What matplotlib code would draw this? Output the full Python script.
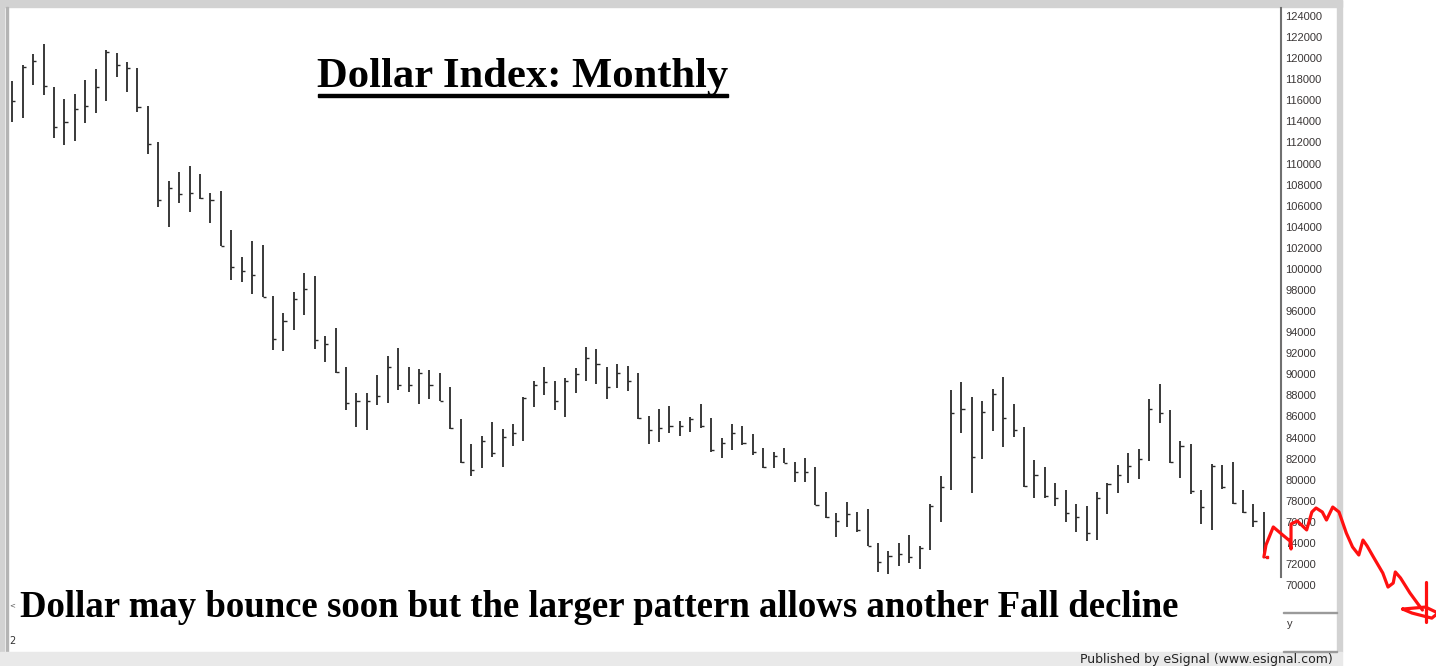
import matplotlib
matplotlib.use('Agg')
import matplotlib.pyplot as plt
from matplotlib.patches import Rectangle
import numpy as np

W, H = 1436, 666

# monthly bars, values in thousands
high_k = [117.86, 119.35, 120.39, 121.31, 117.23, 116.12, 116.57, 117.93, 118.94, 120.77,
          120.52, 119.66, 119.04, 115.46, 112.01, 108.37, 109.22, 109.76, 108.98, 107.17,
          107.42, 103.69, 101.10, 102.68, 102.24, 97.46, 95.79, 97.84, 99.58, 99.35,
          93.63, 94.36, 90.66, 88.19, 88.19, 89.93, 91.76, 92.52, 90.72, 90.47,
          90.41, 90.09, 88.82, 85.73, 83.35, 84.17, 85.50, 84.81, 85.28, 87.81,
          89.36, 90.66, 89.36, 89.62, 90.57, 92.56, 92.37, 90.66, 90.95, 90.81,
          90.09, 86.04, 86.68, 87.02, 85.57, 85.97, 87.15, 85.82, 83.92, 85.28,
          85.12, 84.30, 82.97, 82.60, 83.03, 81.70, 82.03, 81.17, 78.80, 76.81,
          77.85, 76.96, 77.19, 73.96, 73.26, 74.02, 74.75, 73.70, 77.69, 80.37,
          88.51, 89.24, 87.87, 87.46, 88.60, 89.71, 87.18, 85.02, 81.86, 81.17,
          79.65, 79.02, 77.69, 77.50, 78.80, 79.65, 81.39, 82.50, 82.91, 87.65,
          89.08, 86.61, 83.67, 83.35, 79.02, 81.46, 81.39, 81.70, 79.02, 77.69,
          76.96]
low_k = [113.97, 114.29, 117.45, 116.50, 112.45, 111.76, 112.17, 113.87, 114.77, 115.96,
         118.24, 116.76, 114.86, 110.88, 105.85, 104.00, 106.23, 105.43, 106.63, 104.33,
         102.20, 98.95, 98.79, 97.59, 97.30, 92.30, 92.24, 94.20, 95.62, 92.37,
         91.19, 90.09, 86.61, 85.02, 84.71, 87.06, 87.25, 88.51, 88.35, 87.15,
         87.63, 87.49, 84.83, 81.55, 80.37, 81.13, 82.18, 81.17, 83.22, 83.70,
         86.92, 88.03, 86.61, 85.97, 88.25, 89.36, 89.08, 87.63, 88.67, 88.41,
         85.76, 83.38, 83.60, 84.40, 84.14, 84.55, 84.93, 82.65, 82.03, 82.81,
         83.29, 82.34, 81.08, 81.08, 81.55, 79.81, 79.81, 77.59, 76.39, 74.59,
         75.53, 75.06, 73.70, 71.21, 71.02, 71.83, 72.12, 71.52, 73.32, 76.01,
         79.02, 84.40, 78.76, 81.93, 84.62, 83.07, 84.02, 79.27, 78.29, 78.29,
         77.50, 76.01, 75.06, 74.21, 74.27, 76.71, 78.71, 79.71, 80.06, 81.80,
         85.35, 81.55, 80.13, 78.64, 75.79, 75.22, 79.11, 77.66, 76.86, 75.53,
         72.56]
close_k = [115.96, 119.13, 119.76, 117.39, 113.49, 113.97, 115.17, 115.49, 117.23, 120.61,
           119.35, 119.04, 115.39, 111.85, 106.54, 107.65, 107.08, 107.23, 106.76, 106.54,
           102.20, 100.15, 99.80, 99.42, 97.36, 93.32, 95.08, 97.14, 98.06, 93.25,
           92.87, 90.24, 87.25, 87.46, 87.46, 87.97, 90.66, 88.98, 88.98, 90.15,
           88.98, 87.49, 84.87, 81.70, 80.92, 83.67, 82.50, 84.08, 84.40, 87.72,
           88.98, 89.24, 87.49, 89.39, 90.00, 91.52, 90.97, 88.82, 90.09, 89.39,
           85.88, 84.71, 84.93, 85.12, 85.09, 85.73, 85.09, 82.81, 83.45, 84.40,
           83.45, 82.60, 81.23, 82.24, 81.61, 80.75, 80.75, 77.59, 76.48, 76.08,
           76.71, 75.22, 73.70, 72.16, 72.75, 72.94, 72.69, 73.49, 77.50, 79.33,
           86.35, 86.68, 82.12, 86.45, 88.13, 85.88, 84.71, 79.40, 80.44, 78.48,
           78.23, 76.86, 76.48, 74.91, 78.23, 79.59, 80.44, 81.32, 81.96, 86.68,
           86.35, 81.64, 83.19, 78.95, 77.43, 81.29, 79.27, 77.75, 76.96, 76.08,
           72.65]

# hand drawn red forecast squiggle (bar index, value in thousands)
sq_x = [121.0, 121.2, 121.9, 122.8, 123.5, 123.6, 123.6, 124.2, 125.1, 125.6, 126.0,
        126.6, 127.0, 127.6, 128.2, 128.9, 129.5, 130.1, 130.5, 130.9, 131.5, 132.4,
        132.9, 133.4, 133.6, 134.1, 135.0, 135.7, 136.2]
sq_y = [72.66, 73.80, 75.51, 74.75, 74.18, 73.42, 75.79, 76.08, 75.23, 76.93, 77.31,
        76.93, 76.17, 77.40, 76.93, 74.94, 73.61, 72.85, 74.27, 73.70, 72.66, 71.14,
        69.81, 70.19, 71.24, 70.67, 69.25, 68.30, 67.63]
loop_x = [134.3, 136.5, 137.7, 137.1, 135.2, 134.3]
loop_y = [67.72, 67.91, 67.34, 66.86, 67.34, 67.72]
stroke_x = [136.5, 136.5]
stroke_y = [70.29, 66.49]

yticks_k = list(range(70, 126, 2))

high = np.array(high_k) * 1000
low = np.array(low_k) * 1000
close = np.array(close_k) * 1000
bars = np.arange(1, len(high) + 1)

fig = plt.figure(figsize=(W / 100, H / 100), dpi=100)
fig.patch.set_facecolor('white')


def px_rect(x0, y0, x1, y1, color):
    # rectangle in pixel units, kept under the axes
    fig.patches.append(Rectangle((x0 / W, 1 - y1 / H), (x1 - x0) / W, (y1 - y0) / H,
                                 transform=fig.transFigure, color=color, zorder=-1))


# window frame pieces
px_rect(0, 0, 1342, 7, '#d2d2d2')
px_rect(0, 0, 4, 652, '#d2d2d2')
px_rect(6, 7, 7.5, 652, '#b4b4b4')
px_rect(1337, 0, 1342, 652, '#d2d2d2')
px_rect(0, 652, 1342, 666, '#e9e9e9')
px_rect(1283, 611.5, 1337, 612.5, '#9a9a9a')
px_rect(1283, 650.5, 1337, 651.5, '#9a9a9a')

ax = fig.add_axes([8 / W, 66 / H, (1281 - 8) / W, 592 / H])
ax.set_facecolor('none')
ax.set_xlim(0.588, 122.64)
ax.set_ylim(68580, 124760)

ax.vlines(bars, low, high, color='#2a2a2a', lw=1.3)
ax.hlines(close, bars, bars + 0.3, color='#2a2a2a', lw=1.0)

for s in ['top', 'left', 'bottom']:
    ax.spines[s].set_visible(False)
ax.spines['right'].set_color('#707070')
ax.spines['right'].set_linewidth(1.5)
ax.spines['right'].set_bounds(70760, 124760)
ax.set_xticks([])
ax.yaxis.tick_right()
ax.set_yticks([v * 1000 for v in yticks_k])
ax.set_yticklabels([str(v * 1000) for v in yticks_k])
ax.tick_params(axis='y', length=0, pad=3, labelsize=8, labelcolor='#3a3636')
for lab in ax.get_yticklabels():
    lab.set_family('Liberation Sans')

# red squiggle goes past the chart frame
red = dict(color='#ff1010', lw=2.3, clip_on=False, zorder=10, solid_capstyle='round',
           solid_joinstyle='round')
ax.plot(sq_x, np.array(sq_y) * 1000, **red)
ax.plot(loop_x, np.array(loop_y) * 1000, **red)
ax.plot(stroke_x, np.array(stroke_y) * 1000, **red)
ax.plot([121.25], [72660], 's', color='#ff1010', ms=2, clip_on=False, zorder=10)

fig.text(523 / W, 1 - 87 / H, 'Dollar Index: Monthly', ha='center', va='baseline',
         family='Liberation Serif', weight='bold', fontsize=30.7)
px_rect(318, 93.5, 728, 96.5, 'black')

fig.text(20 / W, 1 - 617 / H,
         'Dollar may bounce soon but the larger pattern allows another Fall decline',
         ha='left', va='baseline', family='Liberation Serif', weight='bold', fontsize=26.5)

fig.text(1287 / W, 1 - 624 / H, 'y', ha='left', va='center', family='Liberation Sans',
         fontsize=8, color='#3a3636')
fig.text(9 / W, 1 - 605 / H, '<', ha='left', va='center', fontsize=5, color='#555555')
fig.text(9 / W, 1 - 641 / H, '2', ha='left', va='center', fontsize=7, color='#333333')
fig.text(1333 / W, 1 - 659.5 / H, 'Published by eSignal (www.esignal.com)', ha='right',
         va='center', family='DejaVu Sans', fontsize=9, color='#222222')

plt.savefig('out.png', dpi=100)
print('plot finished!')
